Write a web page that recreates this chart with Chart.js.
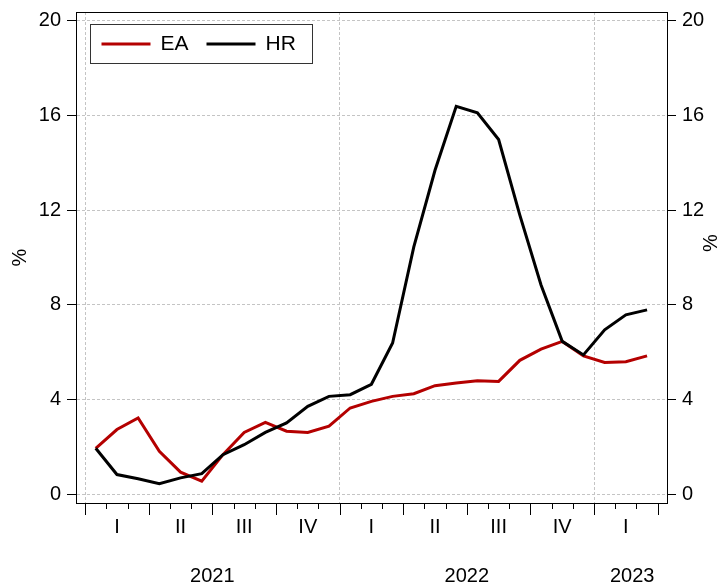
<!DOCTYPE html>
<html>
<head>
<meta charset="utf-8">
<script src="https://cdn.jsdelivr.net/npm/chart.js@4"></script>
<style>
    body { margin: 0; background: #fff; }
    #wrap { width: 722px; height: 586px; }
</style>
</head>
<body>
<div id="wrap"><canvas id="inflationChart" width="722" height="586"></canvas></div>
<script>
// monthly observations, Jan 2021 - Mar 2023
const months = [
    '2021-01', '2021-02', '2021-03', '2021-04', '2021-05', '2021-06',
    '2021-07', '2021-08', '2021-09', '2021-10', '2021-11', '2021-12',
    '2022-01', '2022-02', '2022-03', '2022-04', '2022-05', '2022-06',
    '2022-07', '2022-08', '2022-09', '2022-10', '2022-11', '2022-12',
    '2023-01', '2023-02', '2023-03'
];
const eaValues = [1.95, 2.74, 3.23, 1.82, 0.94, 0.56, 1.68, 2.62, 3.04, 2.67, 2.62, 2.88,
                  3.65, 3.93, 4.14, 4.25, 4.59, 4.70, 4.80, 4.77, 5.66, 6.13, 6.46, 5.85,
                  5.57, 5.60, 5.85];
const hrValues = [1.95, 0.84, 0.66, 0.45, 0.70, 0.88, 1.68, 2.10, 2.62, 3.02, 3.72, 4.14,
                  4.21, 4.65, 6.39, 10.45, 13.68, 16.38, 16.11, 14.98, 11.79, 8.84, 6.46, 5.89,
                  6.95, 7.58, 7.79];
const quarterLabels = ['I', 'II', 'III', 'IV', 'I', 'II', 'III', 'IV', 'I'];
const yearLabels = ['2021', '2022', '2023'];
const yearCenters = [6, 18, 25.8];   // in months from Jan 2021
const yTicks = [0, 4, 8, 12, 16, 20];

const FONT = "'Liberation Sans', Arial, sans-serif";
const EA_COLOR = '#b40000';
const HR_COLOR = '#000000';
const GRID_COLOR = '#c4c4c4';

// Draws the frame, x ticks, period labels, axis titles and the boxed legend
const decorations = {
    id: 'decorations',
    afterDraw(chart) {
        const ctx = chart.ctx;
        const area = chart.chartArea;
        const x = chart.scales.x;

        ctx.save();
        ctx.strokeStyle = '#000';
        ctx.lineWidth = 1;
        ctx.strokeRect(Math.round(area.left) + 0.5, Math.round(area.top) + 0.5,
            Math.round(area.right - area.left), Math.round(area.bottom - area.top));

        // month ticks, longer on quarter boundaries
        for (let k = 0; k <= months.length; k++) {
            const px = Math.round(x.getPixelForValue(k)) + 0.5;
            const len = k % 3 === 0 ? 12 : 6;
            ctx.beginPath();
            ctx.moveTo(px, area.bottom);
            ctx.lineTo(px, area.bottom + len);
            ctx.stroke();
        }

        ctx.fillStyle = '#000';
        ctx.font = '20px ' + FONT;
        ctx.textAlign = 'center';
        ctx.textBaseline = 'middle';
        quarterLabels.forEach((q, i) => {
            ctx.fillText(q, x.getPixelForValue(i * 3 + 1.5), area.bottom + 24);
        });
        yearLabels.forEach((yr, i) => {
            ctx.fillText(yr, x.getPixelForValue(yearCenters[i]), area.bottom + 73);
        });

        // "%" titles, both reading bottom to top
        ctx.save();
        ctx.translate(20, (area.top + area.bottom) / 2);
        ctx.rotate(-Math.PI / 2);
        ctx.fillText('%', 0, 0);
        ctx.restore();
        ctx.save();
        ctx.translate(711, 243);
        ctx.rotate(-Math.PI / 2);
        ctx.fillText('%', 0, 0);
        ctx.restore();

        // legend
        const lx = area.left + 14.5, ly = area.top + 12.5;
        ctx.fillStyle = '#fff';
        ctx.fillRect(lx, ly, 222, 39);
        ctx.strokeStyle = '#333';
        ctx.strokeRect(lx, ly, 222, 39);
        ctx.font = '21px ' + FONT;
        let cx = lx + 11;
        chart.data.datasets.forEach(ds => {
            ctx.strokeStyle = ds.borderColor;
            ctx.lineWidth = 3;
            ctx.beginPath();
            ctx.moveTo(cx, ly + 19.5);
            ctx.lineTo(cx + 49, ly + 19.5);
            ctx.stroke();
            ctx.fillStyle = '#000';
            ctx.textAlign = 'left';
            ctx.fillText(ds.label, cx + 59, ly + 20);
            cx += 105;
        });
        ctx.restore();
    }
};

// fixed width, and no extra label padding so the plot box sits where we want it
function fixWidth(w) {
    return (scale) => {
        scale.width = w;
        scale.paddingTop = 0;
        scale.paddingBottom = 0;
    };
}

const yAxisBase = {
    min: -0.36,
    max: 20.36,
    afterBuildTicks: (scale) => { scale.ticks = yTicks.map(v => ({ value: v })); },
    grid: {
        color: GRID_COLOR,
        lineWidth: 1,
        tickLength: 9,
        tickColor: '#000',
        tickBorderDash: [],
        drawOnChartArea: true
    },
    border: { display: true, color: '#000', dash: [3, 2] },
    ticks: {
        color: '#000',
        padding: 6,
        font: { size: 20, family: FONT }
    }
};

const ctx = document.getElementById('inflationChart').getContext('2d');

new Chart(ctx, {
    type: 'line',
    data: {
        datasets: [
            {
                label: 'EA',
                data: months.map((m, i) => ({ x: i + 0.5, y: eaValues[i] })),
                borderColor: EA_COLOR,
                borderWidth: 3,
                pointRadius: 0,
                tension: 0,
                order: 1
            },
            {
                label: 'HR',
                data: months.map((m, i) => ({ x: i + 0.5, y: hrValues[i] })),
                borderColor: HR_COLOR,
                borderWidth: 3,
                pointRadius: 0,
                tension: 0,
                order: 0
            }
        ]
    },
    options: {
        responsive: false,
        animation: false,
        devicePixelRatio: 1,
        layout: { padding: { top: 12, left: 0, right: 0, bottom: 0 } },
        plugins: {
            legend: { display: false },
            tooltip: { enabled: false }
        },
        scales: {
            x: {
                type: 'linear',
                min: -0.43,
                max: 27.44,
                afterBuildTicks: (scale) => {
                    scale.ticks = [0, 12, 24].map(v => ({ value: v }));
                },
                afterFit: (scale) => {
                    scale.height = 83;
                    scale.paddingLeft = 0;
                    scale.paddingRight = 0;
                },
                grid: {
                    color: GRID_COLOR,
                    drawTicks: false
                },
                border: { display: false, dash: [3, 2] },
                ticks: { display: false }
            },
            y: Object.assign({}, yAxisBase, {
                position: 'left',
                afterFit: fixWidth(76)
            }),
            y2: Object.assign({}, yAxisBase, {
                position: 'right',
                afterFit: fixWidth(55),
                grid: Object.assign({}, yAxisBase.grid, { drawOnChartArea: false })
            })
        }
    },
    plugins: [decorations]
});
</script>
</body>
</html>
